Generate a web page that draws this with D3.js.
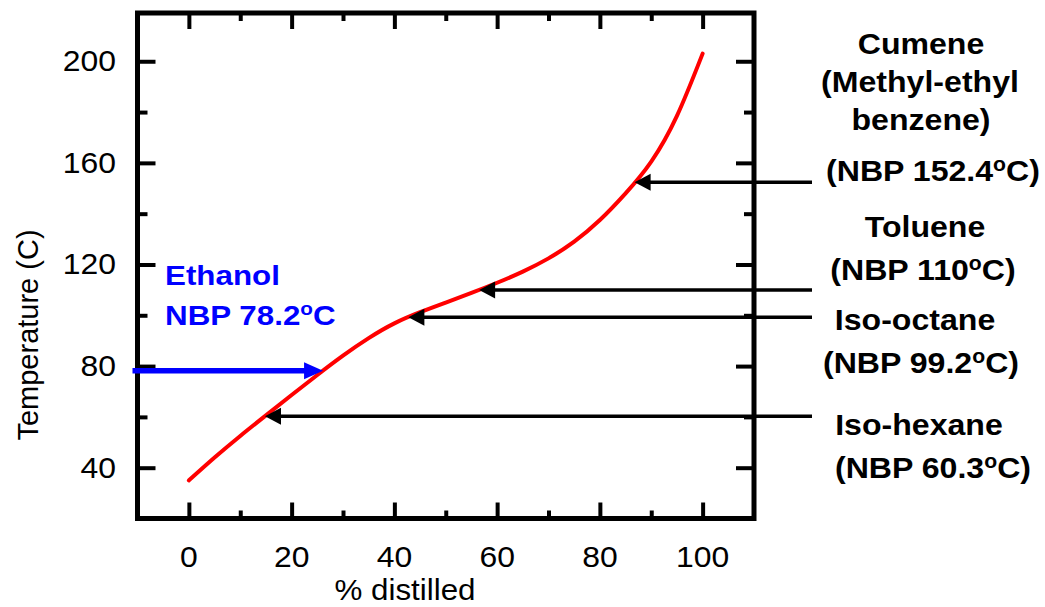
<!DOCTYPE html>
<html>
<head>
<meta charset="utf-8">
<script src="https://cdn.jsdelivr.net/npm/d3@7"></script>
<style>
  body { margin: 0; background: #fff; }
  svg text { font-family: "Liberation Sans", Arial, sans-serif; }
</style>
</head>
<body>
<svg id="chart" width="1045" height="607"></svg>
<script>
// Distillation curve: temperature vs. percent distilled
const pctDistilled = [0, 5, 10, 15, 20, 25, 30, 35, 40, 45, 50, 55, 60, 65, 70, 75, 80, 85, 90, 95, 100];
const temperature  = [35, 44, 52.5, 60.6, 68.6, 76.5, 84.1, 91, 96.8, 101.2, 105, 108.8, 112.8, 117.2, 122.4, 129, 137.5, 148, 160.5, 178.5, 203];

// Reference compounds and their normal boiling points (°C)
const compoundNames = ["Iso-hexane", "Iso-octane", "Toluene", "Cumene"];
const compoundExtra = [[], [], [], ["(Methyl-ethyl", "benzene)"]];
const boilingPoints = [60.3, 99.2, 110, 152.4];
const ethanolName = "Ethanol";
const ethanolBP = 78.2;

// Axis ticks
const xMajorTicks = [0, 20, 40, 60, 80, 100];
const xMinorTicks = [10, 30, 50, 70, 90];
const yMajorTicks = [40, 80, 120, 160, 200];
const yMinorTicks = [60, 100, 140, 180];
const xTitle = "% distilled";
const yTitle = "Temperature (C)";

// Label placement (baselines and centres of each text line)
const labelLayout = [
  { y: [435, 478], cx: [919, 933] },
  { y: [330, 373], cx: [915, 921] },
  { y: [237, 280], cx: [925, 923] },
  { y: [54, 92, 130, 181], cx: [921, 920, 921, 933] }
];

const svg = d3.select("#chart");
const x = d3.scaleLinear().domain([-10, 110]).range([137.5, 754]);
const y = d3.scaleLinear().domain([20, 219]).range([518.5, 13]);

// Percent distilled at which the curve reaches a given temperature
const pctAtTemp = d3.scaleLinear().domain(temperature).range(pctDistilled);

// Frame
svg.append("rect")
  .attr("x", x.range()[0]).attr("y", y.range()[1])
  .attr("width", x.range()[1] - x.range()[0])
  .attr("height", y.range()[0] - y.range()[1])
  .attr("fill", "none").attr("stroke", "#000").attr("stroke-width", 5);

// Inward ticks on all four sides
function ticks(axis, transform) {
  const g = svg.append("g").attr("transform", transform).call(axis);
  g.select(".domain").remove();
  g.selectAll("line").attr("stroke", "#000").attr("stroke-width", 4);
  g.selectAll("text").remove();
}
const [x0, x1] = x.range();
const [yb, yt] = y.range();
ticks(d3.axisBottom(x).tickValues(xMajorTicks).tickSize(-16), `translate(0,${yb})`);
ticks(d3.axisBottom(x).tickValues(xMinorTicks).tickSize(-8), `translate(0,${yb})`);
ticks(d3.axisTop(x).tickValues(xMajorTicks).tickSize(-16), `translate(0,${yt})`);
ticks(d3.axisTop(x).tickValues(xMinorTicks).tickSize(-8), `translate(0,${yt})`);
ticks(d3.axisLeft(y).tickValues(yMajorTicks).tickSize(-18), `translate(${x0},0)`);
ticks(d3.axisLeft(y).tickValues(yMinorTicks).tickSize(-10), `translate(${x0},0)`);
ticks(d3.axisRight(y).tickValues(yMajorTicks).tickSize(-18), `translate(${x1},0)`);
ticks(d3.axisRight(y).tickValues(yMinorTicks).tickSize(-10), `translate(${x1},0)`);

// Text helper: slightly widened glyphs
function label(px, py, txt, opts = {}) {
  const sx = opts.sx || 1.1;
  return svg.append("text")
    .attr("transform", `translate(${px},${py}) scale(${sx},1)`)
    .attr("text-anchor", opts.anchor || "middle")
    .attr("font-size", opts.size || 29)
    .attr("font-weight", opts.weight || "normal")
    .attr("fill", opts.fill || "#000")
    .text(txt);
}
yMajorTicks.forEach(v => label(116, y(v) + 10, v, { anchor: "end" }));
xMajorTicks.forEach(v => label(x(v), 567, v));

// Axis titles
label(405, 600, xTitle, { sx: 1.08 });
svg.append("text")
  .attr("transform", `translate(38,335) rotate(-90)`)
  .attr("text-anchor", "middle")
  .attr("font-size", 29)
  .text(yTitle);

// Distillation curve
const line = d3.line()
  .x((d, i) => x(pctDistilled[i]))
  .y(d => y(d))
  .curve(d3.curveNatural);
svg.append("path")
  .datum(temperature)
  .attr("d", line)
  .attr("fill", "none")
  .attr("stroke", "#ff0000")
  .attr("stroke-width", 4)
  .attr("stroke-linecap", "round");

// Horizontal arrow from startX to the point where the curve reaches temp
function arrow(temp, startX, color, width, headL, headW) {
  const ty = y(temp);
  const tx = x(pctAtTemp(temp));
  const dir = startX > tx ? 1 : -1;
  svg.append("line")
    .attr("x1", startX).attr("x2", tx + dir * (headL - 1))
    .attr("y1", ty).attr("y2", ty)
    .attr("stroke", color).attr("stroke-width", width);
  svg.append("path")
    .attr("d", `M${tx},${ty}L${tx + dir * headL},${ty - headW / 2}L${tx + dir * headL},${ty + headW / 2}Z`)
    .attr("fill", color);
}

boilingPoints.forEach(bp => arrow(bp, 812, "#000", 3.5, 16, 17));
arrow(ethanolBP, x0 - 5, "#0000ff", 5.5, 19, 17);

// "(NBP xx°C)" with a raised small "o"
function nbp(sel, value, prefix) {
  sel.append("tspan").text(`${prefix}${value}`);
  sel.append("tspan").attr("font-size", "0.66em").attr("dy", -10).text("o");
  sel.append("tspan").attr("dy", 10).text(prefix.startsWith("(") ? "C)" : "C");
}

// Compound labels
compoundNames.forEach((name, i) => {
  const lay = labelLayout[i];
  const lines = [name, ...compoundExtra[i]];
  lines.forEach((t, j) => {
    label(lay.cx[j], lay.y[j], t, { size: 30, weight: "bold", sx: 1.07 });
  });
  const k = lines.length;
  const t = label(lay.cx[k], lay.y[k], null, { size: 30, weight: "bold", sx: 1.07 });
  nbp(t, boilingPoints[i], "(NBP ");
});

// Ethanol label
label(165, 285, ethanolName, { size: 28, weight: "bold", fill: "#0000ff", anchor: "start", sx: 1.12 });
const et = label(165, 325, null, { size: 28, weight: "bold", fill: "#0000ff", anchor: "start", sx: 1.12 });
nbp(et, ethanolBP, "NBP ");
</script>
</body>
</html>
